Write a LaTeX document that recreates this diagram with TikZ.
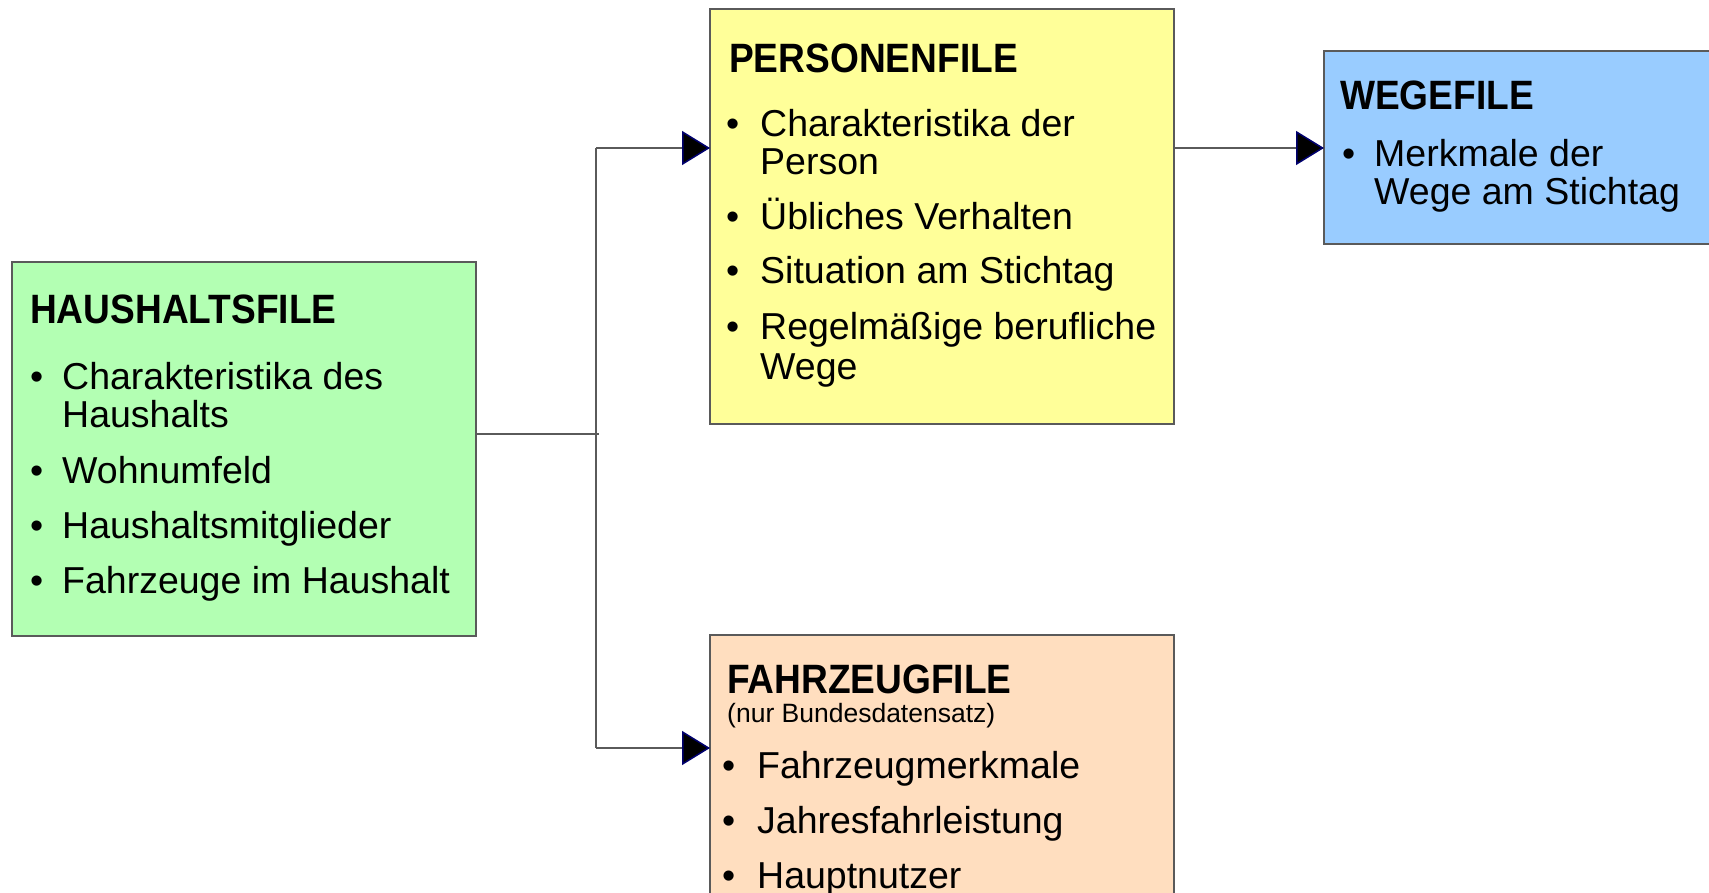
\documentclass[tikz,border=0pt]{standalone}
\usepackage{fontspec}
\setmainfont{Liberation Sans}
\newfontfamily\headfont{Liberation Sans}[FakeStretch=0.905]
\usetikzlibrary{arrows.meta}
\definecolor{hgreen}{RGB}{179,255,179}
\definecolor{pyellow}{RGB}{255,255,153}
\definecolor{wblue}{RGB}{153,204,255}
\definecolor{forange}{RGB}{255,222,191}
\definecolor{boxline}{RGB}{90,90,90}
\definecolor{navytip}{RGB}{0,0,110}
\tikzset{
 filebox/.style={draw=boxline, line width=1.3pt, anchor=north west, inner sep=0pt, outer sep=0pt},
 head/.style={anchor=base west, inner sep=0pt, font=\headfont\fontsize{41}{42}\selectfont\bfseries},
 item/.style={anchor=base west, inner sep=0pt, font=\fontsize{37.5}{38}\selectfont},
 sub/.style={anchor=base west, inner sep=0pt, font=\fontsize{26.5}{28}\selectfont},
 link/.style={draw=boxline, line width=1.3pt},
 tip/.style={-{Triangle[length=28pt,width=34pt,color=navytip,fill=black,line width=1.5pt]}}
}
\begin{document}
\begin{tikzpicture}[x=1pt,y=-1pt]
\useasboundingbox (0,0) rectangle (1709,893);
\clip (0,0) rectangle (1709,893);
% boxes
\node[filebox, fill=hgreen, minimum width=464pt, minimum height=374pt] (haus) at (12,262) {};
\node[filebox, fill=pyellow, minimum width=464pt, minimum height=415pt] (pers) at (710,9) {};
\node[filebox, fill=wblue, minimum width=420pt, minimum height=193pt] (wege) at (1324,51) {};
\node[filebox, fill=forange, minimum width=464pt, minimum height=300pt] (fahr) at (710,635) {};
% connector points
\coordinate (j) at (596,434);
\coordinate (jend) at (599,434);
\coordinate (jt) at (596,148);
\coordinate (jb) at (596,748);
\draw[link] (haus.north east |- j) -- (jend);
\draw[link] (jt) -- (jb);
\draw[link,tip] (jt) -- (pers.west |- jt);
\draw[link,tip] (jb) -- (fahr.west |- jb);
\draw[link,tip] (pers.east |- jt) -- (wege.west |- jt);
% Haushaltsfile
\node[head] (haus-h) at (30,324) {HAUSHALTSFILE};
\node[item] (haus-1) at (30,390) {\makebox[32pt][l]{•}Charakteristika des};
\node[item] (haus-1b) at (62,428) {Haushalts};
\node[item] (haus-2) at (30,483) {\makebox[32pt][l]{•}Wohnumfeld};
\node[item] (haus-3) at (30,538) {\makebox[32pt][l]{•}Haushaltsmitglieder};
\node[item] (haus-4) at (30,593) {\makebox[32pt][l]{•}Fahrzeuge im Haushalt};
% Personenfile
\node[head] (pers-h) at (729,72.5) {PERSONENFILE};
\node[item] (pers-1) at (726,136.5) {\makebox[34pt][l]{•}Charakteristika der};
\node[item] (pers-1b) at (760,174.5) {Person};
\node[item] (pers-2) at (726,229.5) {\makebox[34pt][l]{•}Übliches Verhalten};
\node[item] (pers-3) at (726,283.5) {\makebox[34pt][l]{•}Situation am Stichtag};
\node[item] (pers-4) at (726,339.5) {\makebox[34pt][l]{•}Regelmäßige berufliche};
\node[item] (pers-4b) at (760,379.5) {Wege};
% Wegefile
\node[head] (wege-h) at (1340,110) {WEGEFILE};
\node[item] (wege-1) at (1342,167) {\makebox[32pt][l]{•}Merkmale der};
\node[item] (wege-1b) at (1374,205) {Wege am Stichtag};
% Fahrzeugfile
\node[head] (fahr-h) at (727,693) {FAHRZEUGFILE};
\node[sub] (fahr-s) at (727,722) {(nur Bundesdatensatz)};
\node[item] (fahr-1) at (722,778) {\makebox[35pt][l]{•}Fahrzeugmerkmale};
\node[item] (fahr-2) at (722,833) {\makebox[35pt][l]{•}Jahresfahrleistung};
\node[item] (fahr-3) at (722,888) {\makebox[35pt][l]{•}Hauptnutzer};
\end{tikzpicture}
\end{document}
